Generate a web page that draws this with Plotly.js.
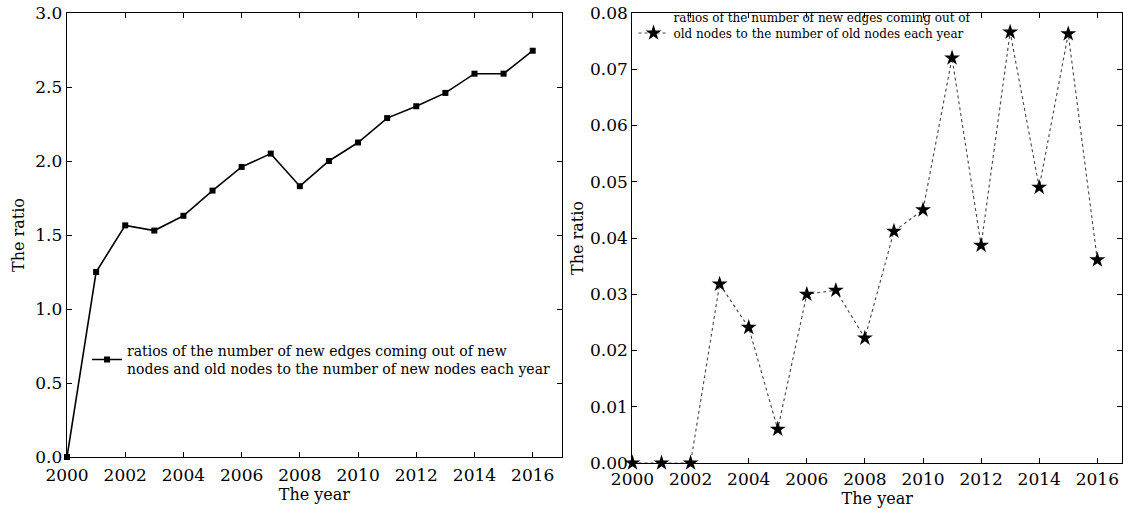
<!DOCTYPE html>
<html>
<head>
<meta charset="utf-8">
<script src="https://cdn.plot.ly/plotly-3.0.1.min.js"></script>
<style>html,body{margin:0;padding:0;background:#fff;}#chart{width:1123px;height:509px;}</style>
</head>
<body>
<div id="chart"></div>
<script>
const years = [2000,2001,2002,2003,2004,2005,2006,2007,2008,2009,2010,2011,2012,2013,2014,2015,2016];
const ratioNew = [0,1.25,1.565,1.53,1.63,1.80,1.96,2.05,1.83,2.00,2.125,2.29,2.37,2.46,2.59,2.59,2.745];
const ratioOld = [0,0,0,0.0318,0.0241,0.006,0.0300,0.0307,0.0222,0.0412,0.0450,0.0720,0.0387,0.0766,0.0490,0.0763,0.0361];
const nameNew = "ratios of the number of new edges coming out of new<br>nodes and old nodes to the number of new nodes each year";
const nameOld = "ratios of the number of new edges coming out of<br>old nodes to the number of old nodes each year";
const yearTicks = [2000,2002,2004,2006,2008,2010,2012,2014,2016];
const leftTicks = [0,0.5,1.0,1.5,2.0,2.5,3.0];
const rightTicks = [0,0.01,0.02,0.03,0.04,0.05,0.06,0.07,0.08];

const serif = "'DejaVu Serif', serif";
const tickFont = {family: serif, size: 17, color: "#000"};
const titleFont = {family: serif, size: 16, color: "#000"};

const traces = [
  {x: years, y: ratioNew, name: nameNew, type: "scatter", mode: "lines+markers",
   xaxis: "x", yaxis: "y", legend: "legend", cliponaxis: false,
   line: {color: "#000", width: 1.6}, marker: {symbol: "square", size: 6, color: "#000"}},
  {x: years, y: ratioOld, name: nameOld, type: "scatter", mode: "lines+markers",
   xaxis: "x2", yaxis: "y2", legend: "legend2", cliponaxis: false,
   line: {color: "#444", width: 1.1, dash: "dot"}, marker: {symbol: "star", size: 12, color: "#000"}}
];

const axBase = {showgrid: false, zeroline: false, showline: true, linecolor: "#000", linewidth: 1.3,
  mirror: "allticks", ticks: "inside", ticklen: 5, tickcolor: "#000", tickfont: tickFont};

const layout = {
  width: 1123, height: 509,
  margin: {l: 67, r: 1, t: 13, b: 46},
  paper_bgcolor: "#fff", plot_bgcolor: "#fff",
  font: {family: serif, color: "#000"},
  showlegend: true,
  xaxis: Object.assign({}, axBase, {domain: [0, 0.469], range: [2000, 2017], tickvals: yearTicks,
    ticklabelstandoff: 2, title: {text: "The year", font: titleFont, standoff: 4}, anchor: "y"}),
  yaxis: Object.assign({}, axBase, {domain: [0.0133, 1], range: [0, 3.0], tickvals: leftTicks, tickformat: ".1f",
    title: {text: "The ratio", font: titleFont, standoff: 6}, anchor: "x"}),
  xaxis2: Object.assign({}, axBase, {domain: [0.536, 1], range: [2000, 2016.85], tickvals: yearTicks,
    title: {text: "The year", font: titleFont, standoff: 2}, anchor: "y2"}),
  yaxis2: Object.assign({}, axBase, {domain: [0, 1], range: [0, 0.08], tickvals: rightTicks, tickformat: ".2f",
    title: {text: "The ratio", font: titleFont, standoff: 2}, anchor: "x2"}),
  legend: {x: 0.019, y: 0.285, xanchor: "left", yanchor: "top", bgcolor: "rgba(0,0,0,0)",
    font: {family: serif, size: 14, color: "#000"}, valign: "middle"},
  legend2: {x: 0.537, y: 1.022, xanchor: "left", yanchor: "top", bgcolor: "rgba(0,0,0,0)",
    font: {family: serif, size: 12, color: "#000"}, valign: "bottom"}
};

Plotly.newPlot("chart", traces, layout, {displayModeBar: false, staticPlot: true});
</script>
</body>
</html>
